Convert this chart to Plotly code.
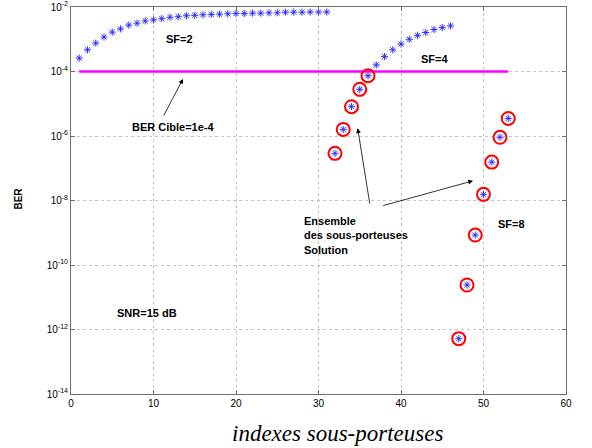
import plotly.graph_objects as go

# ---- data ----
sf2_idx = list(range(1, 32))
sf2_ber = [2.6e-4, 4.7e-4, 7.6e-4, 1.17e-3, 1.66e-3, 2.1e-3, 2.75e-3, 3.15e-3, 3.7e-3, 4.0e-3,
           4.35e-3, 4.8e-3, 5.0e-3, 5.35e-3, 5.5e-3, 5.75e-3, 5.9e-3, 6.0e-3, 6.15e-3, 6.3e-3,
           6.3e-3, 6.45e-3, 6.45e-3, 6.6e-3, 6.6e-3, 6.9e-3, 6.9e-3, 6.9e-3, 7.0e-3, 7.0e-3, 7.0e-3]

sf4_idx = list(range(32, 47))
sf4_ber = [2.9e-7, 1.6e-6, 8.1e-6, 2.8e-5, 7.4e-5, 1.6e-4, 2.9e-4, 4.7e-4, 7.1e-4, 1.0e-3,
           1.32e-3, 1.62e-3, 2.0e-3, 2.3e-3, 2.6e-3]

sf8_idx = list(range(47, 54))
sf8_ber = [5.2e-13, 2.4e-11, 8.5e-10, 1.55e-8, 1.55e-7, 9.1e-7, 3.5e-6]

solution_idx = [32, 33, 34, 35, 36, 47, 48, 49, 50, 51, 52, 53]
solution_ber = sf4_ber[0:5] + sf8_ber

target_idx = [1, 53]
target_ber = [1e-4, 1e-4]

y_tickvals = [1e-14, 1e-12, 1e-10, 1e-8, 1e-6, 1e-4, 1e-2]
y_ticktext = ["10<sup>-14</sup>", "10<sup>-12</sup>", "10<sup>-10</sup>", "10<sup>-8</sup>",
              "10<sup>-6</sup>", "10<sup>-4</sup>", "10<sup>-2</sup>"]
x_tickvals = [0, 10, 20, 30, 40, 50, 60]

FONT = "Liberation Sans, Arial, sans-serif"
star = dict(symbol="asterisk-open", size=6, color="#2020ff", line=dict(color="#2020ff", width=0.9))

fig = go.Figure()
fig.add_trace(go.Scatter(x=target_idx, y=target_ber, mode="lines",
                         line=dict(color="#ff00ff", width=2.5), showlegend=False))
fig.add_trace(go.Scatter(x=sf2_idx, y=sf2_ber, mode="markers", marker=star, showlegend=False))
fig.add_trace(go.Scatter(x=sf4_idx, y=sf4_ber, mode="markers", marker=star, showlegend=False))
fig.add_trace(go.Scatter(x=sf8_idx, y=sf8_ber, mode="markers", marker=star, showlegend=False))
fig.add_trace(go.Scatter(x=solution_idx, y=solution_ber, mode="markers",
                         marker=dict(symbol="circle-open", size=13, color="#ff0000",
                                     line=dict(color="#ff0000", width=2)),
                         showlegend=False))

txt = dict(family=FONT, size=11, color="black", weight="bold")
ann = []
def label(x, ly, t, anchor="center"):
    ann.append(dict(x=x, y=ly, xref="x", yref="y", text=t, showarrow=False,
                    font=txt, xanchor=anchor, yanchor="middle", align="left"))
label(13.15, -2.98, "SF=2")
label(44.0, -3.61, "SF=4")
label(53.4, -8.74, "SF=8")
label(12.4, -5.71, "BER Cible=1e-4")
label(28.0, -9.07, "Ensemble<br>des sous-porteuses<br>Solution", anchor="left")
label(5.3, -11.5, "SNR=15 dB", anchor="left")

def arrow(x0, y0, x1, y1):
    ann.append(dict(x=x1, y=y1, ax=x0, ay=y0, xref="x", yref="y", axref="x", ayref="y",
                    text="", showarrow=True, arrowhead=2, arrowsize=1.2, arrowwidth=0.8,
                    arrowcolor="black"))
arrow(11.15, -5.41, 13.58, -4.23)
arrow(36.24, -8.14, 34.75, -5.76)
arrow(37.66, -8.17, 48.73, -7.39)

ann.append(dict(x=0.539, y=-0.103, xref="paper", yref="paper", text="<i>indexes sous-porteuses</i>",
                showarrow=False, font=dict(family="Liberation Serif, Times New Roman, serif", size=23,
                                           color="black"), xanchor="center", yanchor="middle"))
ann.append(dict(x=-0.105, y=0.505, xref="paper", yref="paper", text="BER", textangle=-90,
                showarrow=False, font=dict(family=FONT, size=10, color="black", weight="bold"),
                xanchor="center", yanchor="middle"))

fig.update_layout(
    width=592, height=448,
    margin=dict(l=71, r=26, t=7, b=54, autoexpand=False),
    plot_bgcolor="white", paper_bgcolor="white",
    annotations=ann,
    font=dict(family=FONT, size=10, color="black"),
)
axis_common = dict(showgrid=True, gridcolor="#c4c4c4", griddash="dot", gridwidth=1,
                   showline=True, linecolor="#707070", linewidth=1, mirror="ticks",
                   ticks="inside", ticklen=4, tickcolor="#707070", zeroline=False,
                   automargin=False, tickfont=dict(family=FONT, size=10, color="black"))
fig.update_xaxes(range=[0, 60], tickvals=x_tickvals, **axis_common)
fig.update_yaxes(type="log", range=[-14, -2], tickvals=y_tickvals, ticktext=y_ticktext,
                 **axis_common)

fig.write_html("out.html", config={"displayModeBar": False},
               post_script="document.body.style.margin='0';document.body.style.padding='0';")
